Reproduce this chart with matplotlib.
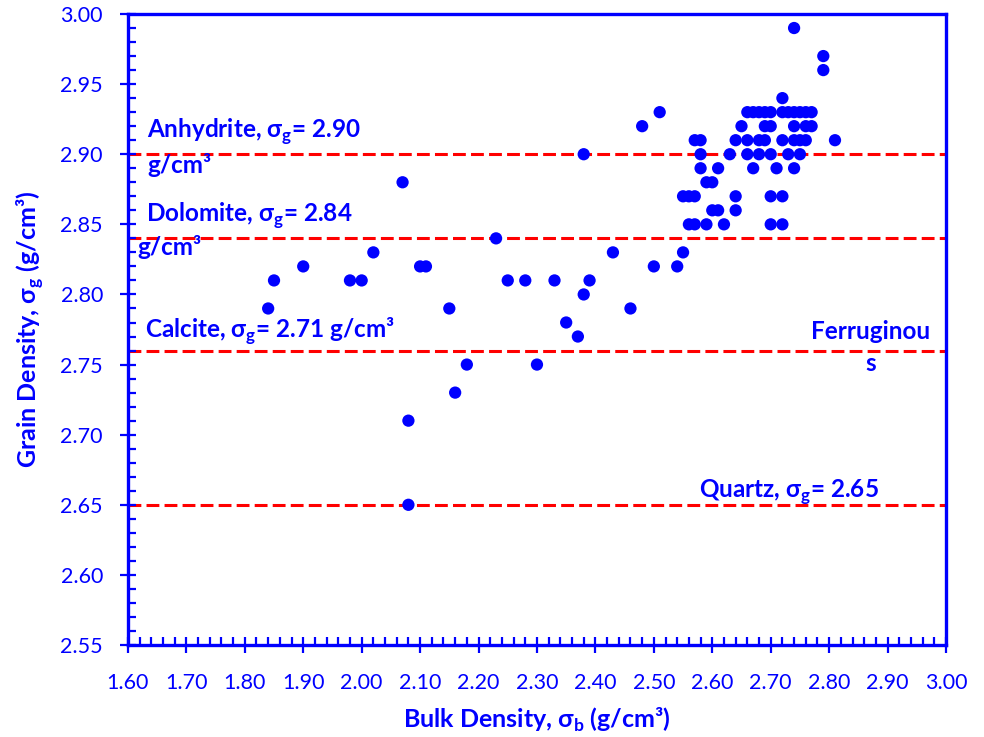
import matplotlib
matplotlib.use('Agg')
import matplotlib.pyplot as plt
from matplotlib.ticker import MultipleLocator, FormatStrFormatter

plt.rcParams['font.family'] = ['Lato', 'DejaVu Sans']
plt.rcParams['mathtext.fontset'] = 'custom'
plt.rcParams['mathtext.rm'] = 'Lato'
plt.rcParams['mathtext.bf'] = 'Lato:bold'

BLUE = '#0000FF'
RED = '#FF0000'

# core plug measurements: bulk density vs grain density (g/cm3)
bulk_scatter = [1.84, 1.85, 1.90, 1.98, 2.00, 2.02, 2.07, 2.10, 2.11, 2.08,
                2.08, 2.15, 2.16, 2.18, 2.23, 2.25, 2.28, 2.30, 2.33, 2.35,
                2.37, 2.38, 2.39, 2.38, 2.43, 2.46, 2.48, 2.50, 2.51, 2.54,
                2.55]
grain_scatter = [2.79, 2.81, 2.82, 2.81, 2.81, 2.83, 2.88, 2.82, 2.82, 2.71,
                 2.65, 2.79, 2.73, 2.75, 2.84, 2.81, 2.81, 2.75, 2.81, 2.78,
                 2.77, 2.80, 2.81, 2.90, 2.83, 2.79, 2.92, 2.82, 2.93, 2.82,
                 2.83]

# dense group of samples around 2.55-2.81 bulk density
cluster_rows = {
    2.99: [2.74],
    2.97: [2.79],
    2.96: [2.79],
    2.94: [2.72],
    2.93: [2.66, 2.67, 2.68, 2.69, 2.70, 2.72, 2.73, 2.74, 2.75, 2.76, 2.77],
    2.92: [2.65, 2.69, 2.70, 2.74, 2.76, 2.77],
    2.91: [2.57, 2.58, 2.64, 2.66, 2.68, 2.69, 2.72, 2.74, 2.75, 2.76, 2.81],
    2.90: [2.58, 2.63, 2.66, 2.68, 2.70, 2.73, 2.75],
    2.89: [2.58, 2.61, 2.67, 2.71, 2.74],
    2.88: [2.59, 2.60],
    2.87: [2.55, 2.56, 2.57, 2.64, 2.70, 2.72],
    2.86: [2.60, 2.61, 2.64],
    2.85: [2.56, 2.57, 2.59, 2.62, 2.70, 2.72],
}

bulk_density = list(bulk_scatter)
grain_density = list(grain_scatter)
for g, row in cluster_rows.items():
    bulk_density += row
    grain_density += [g] * len(row)

# reference mineral grain densities
mineral_lines = [2.90, 2.84, 2.76, 2.65]

fig = plt.figure(figsize=(9.84, 7.37), dpi=100)
ax = fig.add_axes([0.130, 0.1248, 0.8314, 0.8562])

for level in mineral_lines:
    ax.axhline(level, color=RED, lw=2.2, ls=(0, (4.2, 1.7)), zorder=1)

ax.scatter(bulk_density, grain_density, s=78, color=BLUE, edgecolors='none',
           zorder=3)

ax.set_xlim(1.6, 3.0)
ax.set_ylim(2.55, 3.00)
ax.xaxis.set_major_locator(MultipleLocator(0.1))
ax.xaxis.set_minor_locator(MultipleLocator(0.02))
ax.yaxis.set_major_locator(MultipleLocator(0.05))
ax.yaxis.set_minor_locator(MultipleLocator(0.01))
ax.xaxis.set_major_formatter(FormatStrFormatter('%.2f'))
ax.yaxis.set_major_formatter(FormatStrFormatter('%.2f'))

for sp in ax.spines.values():
    sp.set_color(BLUE)
    sp.set_linewidth(2.4)

ax.tick_params(which='major', direction='inout', length=12, width=1.6,
               color=BLUE, labelcolor=BLUE, labelsize=15.5)
ax.tick_params(which='minor', direction='in', length=5.5, width=1.6,
               color=BLUE)
ax.tick_params(axis='x', which='major', pad=14)
ax.tick_params(axis='y', which='major', pad=12)

ax.set_xlabel('Bulk Density, σ$_\\mathbf{b}$ (g/cm³)', color=BLUE,
              fontsize=18, fontweight='bold', labelpad=9)
ax.set_ylabel('Grain Density, σ$_\\mathbf{g}$ (g/cm³)', color=BLUE,
              fontsize=18, fontweight='bold', labelpad=10)

lbl = dict(color=BLUE, fontsize=17.5, fontweight='bold', va='center', zorder=4)
ax.text(1.633, 2.916, 'Anhydrite, σ$_\\mathbf{g}$= 2.90', ha='left', **lbl)
ax.text(1.633, 2.892, 'g/cm³', ha='left', **lbl)
ax.text(1.631, 2.856, 'Dolomite, σ$_\\mathbf{g}$= 2.84', ha='left', **lbl)
ax.text(1.616, 2.834, 'g/cm³', ha='left', **lbl)
ax.text(1.629, 2.774, 'Calcite, σ$_\\mathbf{g}$= 2.71 g/cm³', ha='left', **lbl)
ax.text(2.871, 2.762, 'Ferruginou\ns', ha='center', multialignment='center',
        linespacing=1.45, **lbl)
ax.text(2.578, 2.659, 'Quartz, σ$_\\mathbf{g}$= 2.65', ha='left', **lbl)

fig.savefig('out.png', dpi=100)
